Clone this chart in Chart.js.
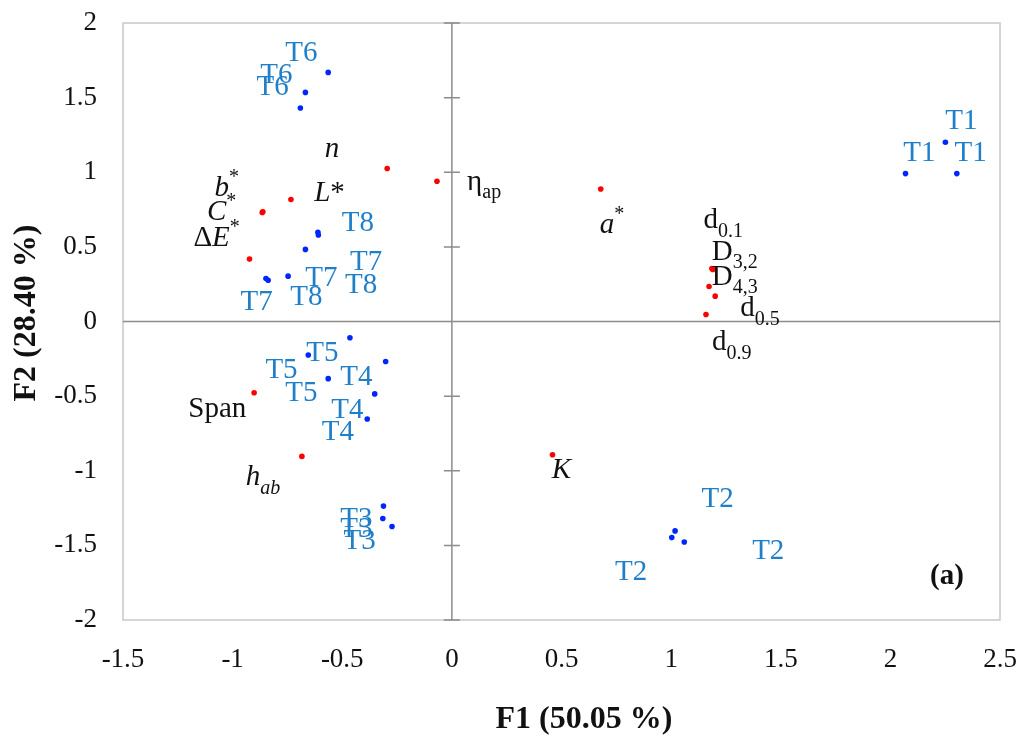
<!DOCTYPE html>
<html>
<head>
<meta charset="utf-8">
<script src="https://cdn.jsdelivr.net/npm/chart.js@4/dist/chart.umd.min.js"></script>
<style>
  body { margin: 0; background: #fff; }
  #wrap { width: 1022px; height: 738px; position: relative; }
</style>
</head>
<body>
<div id="wrap"><canvas id="pcaChart"></canvas></div>
<script>
'use strict';

// observations (treatments), 3 replicates each
const obsNames = ['T1', 'T1', 'T1', 'T2', 'T2', 'T2', 'T3', 'T3', 'T3', 'T4', 'T4', 'T4',
                  'T5', 'T5', 'T5', 'T6', 'T6', 'T6', 'T7', 'T7', 'T7', 'T8', 'T8', 'T8'];
const obsX = [2.251, 2.069, 2.303, 1.018, 1.003, 1.060, -0.312, -0.315, -0.273, -0.302, -0.352, -0.386,
              -0.465, -0.655, -0.564, -0.564, -0.668, -0.691, -0.838, -0.848, -0.747, -0.611, -0.609, -0.668];
const obsY = [1.201, 0.991, 0.991, -1.403, -1.448, -1.477, -1.237, -1.320, -1.374, -0.268, -0.485, -0.653,
              -0.109, -0.224, -0.383, 1.669, 1.535, 1.430, 0.276, 0.288, 0.304, 0.598, 0.580, 0.483];
// where each observation label sits (data units)
const obsLabelX = [2.324, 2.132, 2.366, 1.212, 1.443, 0.818, -0.436, -0.436, -0.421, -0.436, -0.477, -0.520,
                   -0.591, -0.777, -0.686, -0.686, -0.800, -0.818, -0.391, -0.595, -0.891, -0.429, -0.414, -0.664];
const obsLabelY = [1.338, 1.125, 1.125, -1.190, -1.537, -1.682, -1.324, -1.390, -1.470, -0.374, -0.593, -0.743,
                   -0.217, -0.329, -0.485, 1.797, 1.650, 1.566, 0.398, 0.287, 0.130, 0.656, 0.242, 0.163];

// variables (~ toggles italic, _{} subscript, ^{} superscript)
const varNames = ['~n~', 'η_{ap}', '~L~*', '~b~^{*}', '~C~^{*}', 'Δ~E~^{*}', 'Span', '~h_{ab}~', '~K~', '~a~^{*}',
                  'd_{0.1}', 'D_{3,2}', 'D_{4,3}', 'd_{0.5}', 'd_{0.9}'];
const varX = [-0.295, -0.068, -0.734, -0.865, -0.862, -0.923, -0.902, -0.684, 0.459, 0.679,
              1.186, 1.190, 1.173, 1.201, 1.159];
const varY = [1.025, 0.940, 0.817, 0.731, 0.735, 0.418, -0.477, -0.904, -0.893, 0.888,
              0.355, 0.348, 0.235, 0.170, 0.047];
const varLabelX = [-0.547, 0.147, -0.558, -1.027, -1.050, -1.073, -1.070, -0.861, 0.500, 0.730,
                   1.238, 1.290, 1.290, 1.405, 1.276];
const varLabelY = [1.154, 0.935, 0.857, 0.890, 0.734, 0.555, -0.586, -1.045, -1.000, 0.644,
                   0.678, 0.465, 0.297, 0.085, -0.139];

const xTitle = 'F1 (50.05 %)';
const yTitle = 'F2 (28.40 %)';
const panelTag = '(a)';
const panelTagPos = [2.258, -1.71];

const SERIF = '"Liberation Serif", "Times New Roman", serif';
const OBS_COLOR = '#1f7fc8';

function parseRich(s) {
  const segs = [];
  let italic = false, buf = '', i = 0;
  const push = (t, pos) => { if (t) segs.push({ t: t, it: italic, pos: pos }); };
  while (i < s.length) {
    const c = s[i];
    if (c === '~') { push(buf, 'base'); buf = ''; italic = !italic; i++; }
    else if ((c === '_' || c === '^') && s[i + 1] === '{') {
      push(buf, 'base'); buf = '';
      const j = s.indexOf('}', i);
      push(s.slice(i + 2, j), c === '_' ? 'sub' : 'sup');
      i = j + 1;
    } else { buf += c; i++; }
  }
  push(buf, 'base');
  return segs;
}

function drawRich(ctx, str, cx, cy, size, color) {
  const segs = parseRich(str);
  const small = Math.round(size * 0.68);
  const fontOf = s => (s.it ? 'italic ' : '') + (s.pos === 'base' ? size : small) + 'px ' + SERIF;
  let w = 0;
  segs.forEach(s => { ctx.font = fontOf(s); s.w = ctx.measureText(s.t).width; w += s.w; });
  let x = cx - w / 2;
  ctx.fillStyle = color;
  ctx.textAlign = 'left';
  ctx.textBaseline = 'middle';
  segs.forEach(s => {
    ctx.font = fontOf(s);
    let dy = 0;
    if (s.pos === 'sub') dy = size * 0.38;
    if (s.pos === 'sup') dy = -size * 0.36;
    ctx.fillText(s.t, x, cy + dy);
    x += s.w;
  });
}

const axesPlugin = {
  id: 'pcaAxes',
  beforeDatasetsDraw(chart) {
    const { ctx, chartArea: a, scales: { x, y } } = chart;
    ctx.save();
    // plot frame
    ctx.strokeStyle = '#c8c8c8';
    ctx.lineWidth = 1.5;
    ctx.strokeRect(a.left, a.top, a.right - a.left, a.bottom - a.top);
    // zero axes with tick marks
    const x0 = x.getPixelForValue(0), y0 = y.getPixelForValue(0);
    ctx.strokeStyle = '#8c8c8c';
    ctx.lineWidth = 1.5;
    ctx.beginPath();
    ctx.moveTo(a.left, y0); ctx.lineTo(a.right, y0);
    ctx.moveTo(x0, a.top); ctx.lineTo(x0, a.bottom);
    y.ticks.forEach(t => {
      const py = y.getPixelForValue(t.value);
      ctx.moveTo(x0 - 8, py); ctx.lineTo(x0 + 8, py);
    });
    ctx.stroke();
    ctx.restore();
  },
  afterDatasetsDraw(chart) {
    const { ctx, scales: { x, y } } = chart;
    ctx.save();
    obsNames.forEach((n, i) => {
      drawRich(ctx, n, x.getPixelForValue(obsLabelX[i]), y.getPixelForValue(obsLabelY[i]), 29, OBS_COLOR);
    });
    varNames.forEach((n, i) => {
      drawRich(ctx, n, x.getPixelForValue(varLabelX[i]), y.getPixelForValue(varLabelY[i]), 29, '#111');
    });
    ctx.font = 'bold 29px ' + SERIF;
    ctx.fillStyle = '#111';
    ctx.textAlign = 'center';
    ctx.textBaseline = 'middle';
    ctx.fillText(panelTag, x.getPixelForValue(panelTagPos[0]), y.getPixelForValue(panelTagPos[1]));
    // axis titles
    ctx.font = 'bold 32px ' + SERIF;
    ctx.fillText(xTitle, 584, 720);
    ctx.translate(27, 313);
    ctx.rotate(-Math.PI / 2);
    ctx.fillText(yTitle, 0, 0);
    ctx.restore();
  }
};

const tickFont = { family: SERIF, size: 27 };
const plainTick = v => String(v);

new Chart(document.getElementById('pcaChart'), {
  type: 'scatter',
  data: {
    datasets: [{
      label: 'Observations',
      data: obsX.map((v, i) => ({ x: v, y: obsY[i] })),
      backgroundColor: '#0026ff',
      borderWidth: 0,
      pointRadius: 2.8
    }, {
      label: 'Variables',
      data: varX.map((v, i) => ({ x: v, y: varY[i] })),
      backgroundColor: '#ff0000',
      borderWidth: 0,
      pointRadius: 2.8
    }]
  },
  plugins: [axesPlugin],
  options: {
    responsive: true,
    maintainAspectRatio: false,
    animation: false,
    layout: { padding: { left: 0, top: 23, right: 22, bottom: 0 } },
    plugins: {
      legend: { display: false },
      tooltip: { enabled: false }
    },
    scales: {
      x: {
        type: 'linear',
        min: -1.5,
        max: 2.5,
        afterFit: s => { s.height = 118; s.paddingLeft = 0; s.paddingRight = 0; },
        ticks: { stepSize: 0.5, color: '#111', font: tickFont, padding: 24, maxRotation: 0, callback: plainTick },
        grid: { display: false, drawTicks: false },
        border: { display: false }
      },
      y: {
        type: 'linear',
        min: -2,
        max: 2,
        afterFit: s => { s.width = 123; s.paddingTop = 0; s.paddingBottom = 0; },
        ticks: { stepSize: 0.5, color: '#111', font: tickFont, padding: 26, callback: plainTick },
        grid: { display: false, drawTicks: false },
        border: { display: false }
      }
    }
  }
});
</script>
</body>
</html>
